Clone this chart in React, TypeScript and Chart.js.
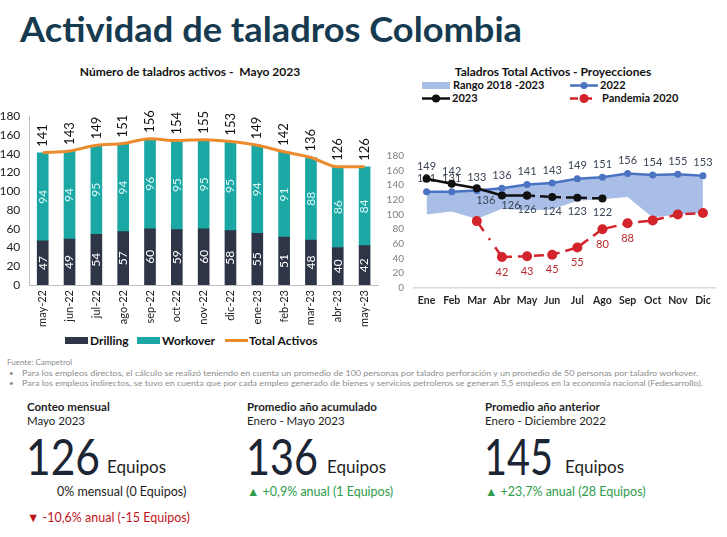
import React, { useEffect, useRef } from "react";
import { Chart, registerables } from "chart.js";

Chart.register(...registerables);

// ---- Left chart data ----
const months = ["may-22", "jun-22", "jul-22", "ago-22", "sep-22", "oct-22", "nov-22", "dic-22", "ene-23", "feb-23", "mar-23", "abr-23", "may-23"];
const drilling = [47, 49, 54, 57, 60, 59, 60, 58, 55, 51, 48, 40, 42];
const workover = [94, 94, 95, 94, 96, 95, 95, 95, 94, 91, 88, 86, 84];
const totalActivos = [141, 143, 149, 151, 156, 154, 155, 153, 149, 142, 136, 126, 126];
const leftTicks = { min: 0, max: 180, step: 20 };

// ---- Right chart data ----
const projMonths = ["Ene", "Feb", "Mar", "Abr", "May", "Jun", "Jul", "Ago", "Sep", "Oct", "Nov", "Dic"];
const rangeLow = [100, 104, 94, 108, 106, 107, 119, 121, 124, 96, 100, 102];
const rangeHigh = [131, 131, 133, 136, 141, 143, 149, 151, 156, 154, 155, 153];
const y2022 = [131, 131, 133, 136, 141, 143, 149, 151, 156, 154, 155, 153];
const y2023 = [149, 142, 136, 126, 126, null, null, null, null, null, null, null];
const y2023Proj = [null, null, null, null, 126, 124, 123, 122, null, null, null, null];
const pandemia2020 = [null, null, 91, 42, 43, 45, 55, 80, 88, 92, 100, 102];
const rightTicks = { min: 0, max: 180, step: 20 };

const FONT = "Lato, 'Noto Sans', sans-serif";

const C_DRILL = "#2e3547";
const C_WORK = "#1ba8a4";
const C_TOTAL = "#ec8a2e";
const C_2022 = "#4a73c2";
const C_RANGE = "#a9bee6";
const C_2023 = "#111111";
const C_PAND = "#d3232b";

function drawRot(ctx: CanvasRenderingContext2D, text: string, x: number, y: number, align: CanvasTextAlign, color: string, font: string) {
  ctx.save();
  ctx.translate(x, y);
  ctx.rotate(-Math.PI / 2);
  ctx.textAlign = align;
  ctx.textBaseline = "middle";
  ctx.fillStyle = color;
  ctx.font = font;
  ctx.fillText(text, 0, 0);
  ctx.restore();
}

const leftLabels = {
  id: "leftLabels",
  afterDatasetsDraw(chart: any) {
    const ctx = chart.ctx as CanvasRenderingContext2D;
    const m0 = chart.getDatasetMeta(0);
    const m1 = chart.getDatasetMeta(1);
    m0.data.forEach((bar: any, i: number) => {
      drawRot(ctx, String(drilling[i]), bar.x, (bar.y + bar.base) / 2, "center", "#ffffff", `12px ${FONT}`);
    });
    m1.data.forEach((bar: any, i: number) => {
      drawRot(ctx, String(workover[i]), bar.x, (bar.y + bar.base) / 2, "center", "#dcf7f6", `12px ${FONT}`);
      drawRot(ctx, String(totalActivos[i]), bar.x, bar.y - 6, "left", "#111111", `13px ${FONT}`);
    });
  },
};

function txt(ctx: CanvasRenderingContext2D, t: string, x: number, y: number, color: string) {
  ctx.save();
  ctx.font = `11px ${FONT}`;
  ctx.fillStyle = color;
  ctx.textAlign = "center";
  ctx.textBaseline = "middle";
  ctx.fillText(t, x, y);
  ctx.restore();
}

const rightLabels = {
  id: "rightLabels",
  beforeDatasetsDraw(chart: any) {
    const ctx = chart.ctx as CanvasRenderingContext2D;
    const m = chart.getDatasetMeta(2);
    m.data.forEach((p: any, i: number) => {
      if (y2022[i] == null) return;
      txt(ctx, String(y2022[i]), p.x, p.y - 13, "#3a4556");
    });
  },
  afterDatasetsDraw(chart: any) {
    const ctx = chart.ctx as CanvasRenderingContext2D;
    const m0 = chart.getDatasetMeta(0);
    const dy23 = [-12, -12, 12, 10, 14];
    const dx23 = [0, 0, 9, 9, 0];
    m0.data.forEach((p: any, i: number) => {
      if (y2023[i] == null || i > 4) return;
      txt(ctx, String(y2023[i]), p.x + dx23[i], p.y + dy23[i], "#3a4556");
    });
    const m1 = chart.getDatasetMeta(1);
    m1.data.forEach((p: any, i: number) => {
      if (y2023Proj[i] == null || i < 5) return;
      txt(ctx, String(y2023Proj[i]), p.x, p.y + 14, "#3a4556");
    });
    const m3 = chart.getDatasetMeta(3);
    m3.data.forEach((p: any, i: number) => {
      if (pandemia2020[i] == null || i < 3 || i > 8) return;
      txt(ctx, String(pandemia2020[i]), p.x, p.y + 15, "#b8282e");
    });
  },
};

export default function App() {
  const leftRef = useRef<HTMLCanvasElement>(null);
  const rightRef = useRef<HTMLCanvasElement>(null);

  useEffect(() => {
    document.body.style.margin = "0";
    const left = new Chart(leftRef.current as HTMLCanvasElement, {
      type: "bar",
      data: {
        labels: months,
        datasets: [
          { type: "bar", label: "Drilling", data: drilling, backgroundColor: C_DRILL, barThickness: 11, order: 1, stack: "bars" } as any,
          { type: "bar", label: "Workover", data: workover, backgroundColor: C_WORK, barThickness: 11, order: 1, stack: "bars" } as any,
          {
            type: "line",
            label: "Total Activos",
            data: totalActivos,
            borderColor: C_TOTAL,
            backgroundColor: C_TOTAL,
            borderWidth: 3,
            pointRadius: 0,
            cubicInterpolationMode: "monotone",
            order: 0,
            stack: "line",
          } as any,
        ],
      },
      options: {
        responsive: false,
        animation: false,
        events: [],
        layout: { padding: { top: 14, right: 7, left: 0, bottom: 0 } },
        plugins: { legend: { display: false }, tooltip: { enabled: false }, title: { display: false } },
        scales: {
          x: {
            stacked: true,
            grid: { display: false, drawTicks: false },
            border: { display: true, color: "#bfbfbf", width: 1 },
            ticks: { autoSkip: false, minRotation: 90, maxRotation: 90, padding: 5, color: "#222", font: { family: FONT, size: 11 } },
            afterFit: (s: any) => { s.height = 50; },
          },
          y: {
            stacked: true,
            min: leftTicks.min,
            max: leftTicks.max,
            grid: { display: false, drawTicks: false },
            border: { display: true, color: "#bfbfbf", width: 1 },
            ticks: { autoSkip: false, stepSize: leftTicks.step, padding: 9, color: "#222", font: { family: FONT, size: 12 } },
            afterFit: (s: any) => { s.width = 29.3; },
          },
        },
      } as any,
      plugins: [leftLabels],
    });

    const right = new Chart(rightRef.current as HTMLCanvasElement, {
      type: "line",
      data: {
        labels: projMonths,
        datasets: [
          { label: "2023", data: y2023, borderColor: C_2023, backgroundColor: C_2023, borderWidth: 2.5, pointRadius: 4, pointBorderWidth: 0, fill: false },
          { label: "2023p", data: y2023Proj, borderColor: C_2023, backgroundColor: C_2023, borderWidth: 2.5, borderDash: [8, 5], pointRadius: 4, pointBorderWidth: 0, fill: false },
          { label: "2022", data: y2022, borderColor: C_2022, backgroundColor: C_2022, borderWidth: 2.5, pointRadius: 3.5, pointBorderWidth: 0, fill: false },
          {
            label: "Pandemia 2020",
            data: pandemia2020,
            borderColor: C_PAND,
            backgroundColor: C_PAND,
            borderWidth: 2.5,
            borderDash: [10, 6],
            pointRadius: 5,
            pointBorderWidth: 0,
            fill: false,
            segment: { borderDash: (c: any) => (c.p0DataIndex === 2 ? [12, 9, 2, 9] : undefined) },
          },
          { label: "Rango alto", data: rangeHigh, borderWidth: 0, borderColor: "rgba(0,0,0,0)", pointRadius: 0, backgroundColor: C_RANGE, fill: "+1" },
          { label: "Rango bajo", data: rangeLow, borderWidth: 0, borderColor: "rgba(0,0,0,0)", pointRadius: 0, fill: false },
        ],
      },
      options: {
        responsive: false,
        animation: false,
        events: [],
        layout: { padding: { top: 11.7, right: 11.5, left: 0, bottom: 0 } },
        plugins: { legend: { display: false }, tooltip: { enabled: false }, filler: { drawTime: "beforeDatasetsDraw" } },
        scales: {
          x: {
            offset: true,
            grid: { display: false, drawTicks: false },
            border: { display: true, color: "#d9d9d9", width: 1.5 },
            ticks: { autoSkip: false, minRotation: 0, maxRotation: 0, padding: 7, color: "#262626", font: { family: FONT, size: 10.5, weight: "bold" } },
            afterFit: (s: any) => { s.height = 32.3; },
          },
          y: {
            min: rightTicks.min,
            max: rightTicks.max,
            grid: { display: false, drawTicks: false },
            border: { display: false },
            ticks: { autoSkip: false, stepSize: rightTicks.step, padding: 10, color: "#808080", font: { family: FONT, size: 10 } },
            afterFit: (s: any) => { s.width = 31; },
          },
        },
      } as any,
      plugins: [rightLabels],
    });

    return () => {
      left.destroy();
      right.destroy();
    };
  }, []);

  const cardTitle = { fontFamily: FONT, fontSize: 11.5, fontWeight: 700, fill: "#1e1e1e" } as any;
  const cardSub = { fontFamily: FONT, fontSize: 11.5, fill: "#1e1e1e" } as any;
  const big = { fontFamily: FONT, fontSize: 50, fill: "#1b2534" } as any;
  const eq = { fontFamily: FONT, fontSize: 17, fill: "#1e1e1e" } as any;
  const chg = { fontFamily: FONT, fontSize: 12.5 } as any;

  return (
    <div style={{ position: "relative", width: 727, height: 537, background: "#fff", overflow: "hidden", fontFamily: FONT }}>
      <svg width={727} height={537} style={{ position: "absolute", left: 0, top: 0 }}>
        <text x={20} y={42} textLength={502} lengthAdjust="spacingAndGlyphs" style={{ fontFamily: FONT, fontSize: 35, fontWeight: 700, fill: "#163a4f" }}>
          Actividad de taladros Colombia
        </text>
        <text x={190} y={76} textAnchor="middle" style={{ fontFamily: FONT, fontSize: 12, fontWeight: 700, fill: "#111", whiteSpace: "pre" }}>
          {"Número de taladros activos -  Mayo 2023"}
        </text>
        <text x={553} y={76} textAnchor="middle" style={{ fontFamily: FONT, fontSize: 12, fontWeight: 700, fill: "#111" }}>
          Taladros Total Activos - Proyecciones
        </text>

        {/* right legend */}
        <rect x={422} y={82} width={28} height={7} fill={C_RANGE} />
        <text x={453} y={89} style={{ fontFamily: FONT, fontSize: 11, fontWeight: 700, fill: "#111" }}>Rango 2018 -2023</text>
        <line x1={570} y1={85.5} x2={598} y2={85.5} stroke={C_2022} strokeWidth={2.5} />
        <circle cx={584} cy={85.5} r={3.5} fill={C_2022} />
        <text x={600} y={89} style={{ fontFamily: FONT, fontSize: 11, fontWeight: 700, fill: "#111" }}>2022</text>
        <line x1={422} y1={98.5} x2={450} y2={98.5} stroke={C_2023} strokeWidth={2.5} />
        <circle cx={436} cy={98.5} r={4} fill={C_2023} />
        <text x={452} y={102} style={{ fontFamily: FONT, fontSize: 11, fontWeight: 700, fill: "#111" }}>2023</text>
        <line x1={570} y1={98.5} x2={598} y2={98.5} stroke={C_PAND} strokeWidth={2.5} strokeDasharray="8 6" />
        <circle cx={584} cy={98.5} r={4.5} fill={C_PAND} />
        <text x={602} y={102} style={{ fontFamily: FONT, fontSize: 11, fontWeight: 700, fill: "#111" }}>Pandemia 2020</text>

        {/* left legend */}
        <rect x={65} y={337} width={23} height={7} fill={C_DRILL} />
        <text x={90} y={344.5} style={{ fontFamily: FONT, fontSize: 12, fontWeight: 700, fill: "#111" }}>Drilling</text>
        <rect x={137} y={337} width={23} height={7} fill={C_WORK} />
        <text x={162} y={344.5} style={{ fontFamily: FONT, fontSize: 12, fontWeight: 700, fill: "#111" }}>Workover</text>
        <line x1={225} y1={340.5} x2={248} y2={340.5} stroke={C_TOTAL} strokeWidth={3} />
        <text x={249} y={344.5} style={{ fontFamily: FONT, fontSize: 12, fontWeight: 700, fill: "#111" }}>Total Activos</text>

        {/* footer */}
        <text x={7} y={365} style={{ fontFamily: FONT, fontSize: 8, fill: "#8c8c8c" }}>Fuente: Campetrol</text>
        <text x={9} y={375.5} style={{ fontFamily: FONT, fontSize: 8, fill: "#8c8c8c" }}>•</text>
        <text x={22} y={375.5} textLength={676} lengthAdjust="spacingAndGlyphs" style={{ fontFamily: FONT, fontSize: 8, fill: "#8c8c8c" }}>
          Para los empleos directos, el cálculo se realizó teniendo en cuenta un promedio de 100 personas por taladro perforación y un promedio de 50 personas por taladro workover.
        </text>
        <text x={9} y={386} style={{ fontFamily: FONT, fontSize: 8, fill: "#8c8c8c" }}>•</text>
        <text x={22} y={386} textLength={681} lengthAdjust="spacingAndGlyphs" style={{ fontFamily: FONT, fontSize: 8, fill: "#8c8c8c" }}>
          Para los empleos indirectos, se tuvo en cuenta que por cada empleo generado de bienes y servicios petroleros se generan 5,5 empleos en la economía nacional (Fedesarrollo).
        </text>

        {/* card 1 */}
        <text x={27} y={411} style={cardTitle}>Conteo mensual</text>
        <text x={27} y={425} style={cardSub}>Mayo 2023</text>
        <text x={26} y={475} textLength={74} lengthAdjust="spacingAndGlyphs" style={big}>126</text>
        <text x={107} y={473} style={eq}>Equipos</text>
        <text x={57} y={496} style={{ ...chg, fill: "#1e1e1e" }}>0% mensual (0 Equipos)</text>
        <text x={27} y={522} style={{ ...chg, fill: "#c0141c" }}>▼ -10,6% anual (-15 Equipos)</text>

        {/* card 2 */}
        <text x={247} y={411} style={cardTitle}>Promedio año acumulado</text>
        <text x={247} y={425} style={cardSub}>Enero - Mayo 2023</text>
        <text x={246} y={475} textLength={72} lengthAdjust="spacingAndGlyphs" style={big}>136</text>
        <text x={327} y={473} style={eq}>Equipos</text>
        <text x={247} y={496} style={{ ...chg, fill: "#2e9c4b" }}>▲ +0,9% anual (1 Equipos)</text>

        {/* card 3 */}
        <text x={485} y={411} style={cardTitle}>Promedio año anterior</text>
        <text x={485} y={425} style={cardSub}>Enero - Diciembre 2022</text>
        <text x={484} y={475} textLength={69} lengthAdjust="spacingAndGlyphs" style={big}>145</text>
        <text x={565} y={473} style={eq}>Equipos</text>
        <text x={485} y={496} style={{ ...chg, fill: "#2e9c4b" }}>▲ +23,7% anual (28 Equipos)</text>
      </svg>
      <canvas ref={leftRef} width={385} height={235} style={{ position: "absolute", left: 0, top: 100 }} />
      <canvas ref={rightRef} width={344} height={180} style={{ position: "absolute", left: 383, top: 140 }} />
    </div>
  );
}
